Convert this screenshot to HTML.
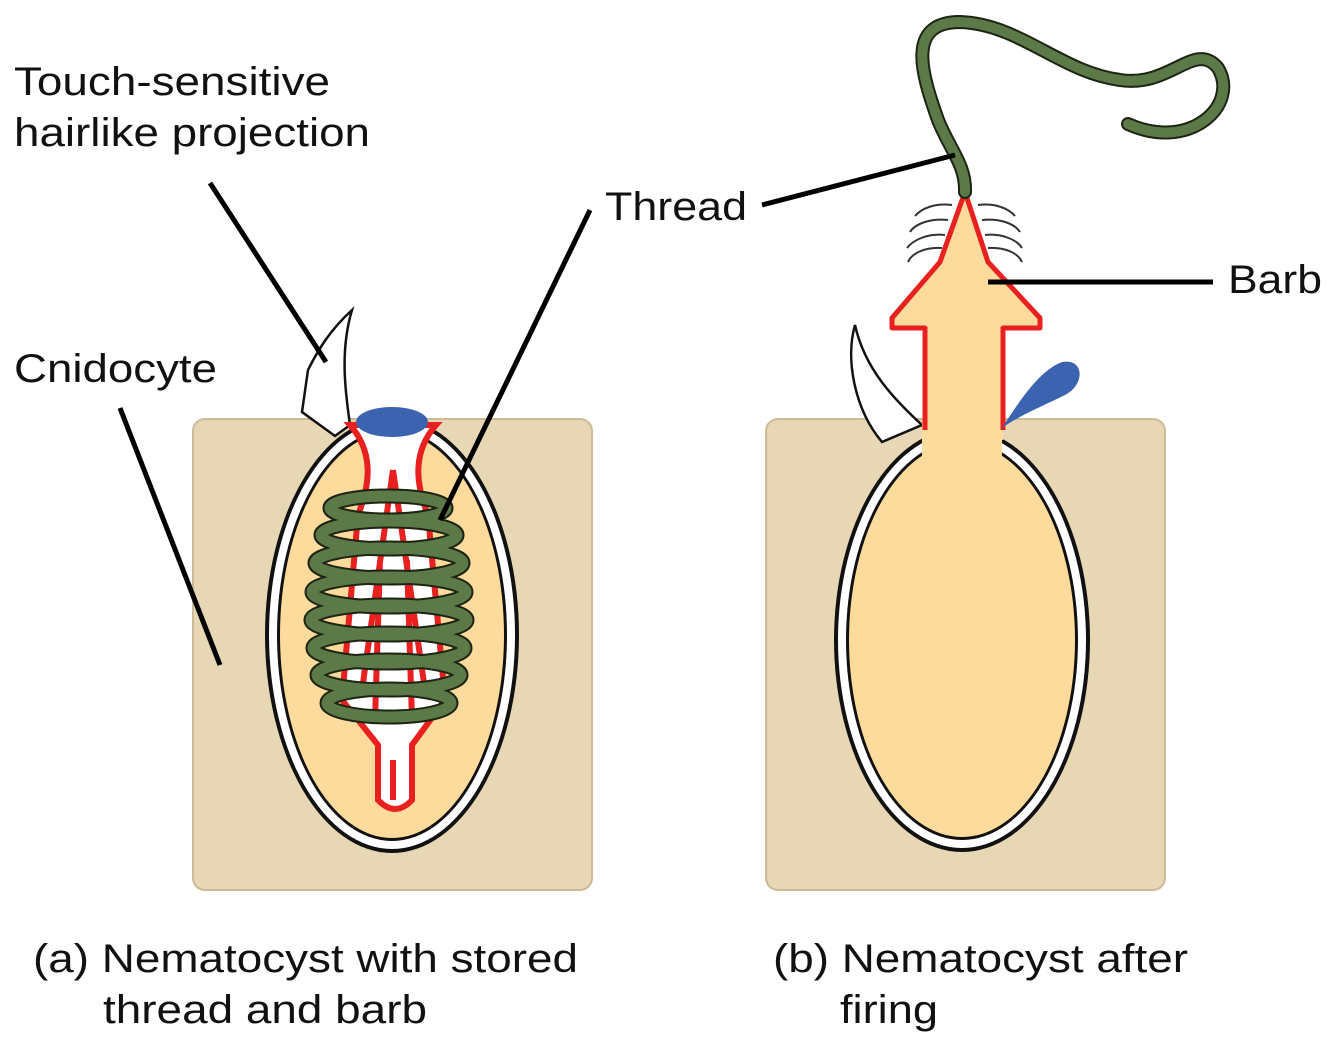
<!DOCTYPE html>
<html><head><style>html,body{margin:0;padding:0;background:#fff}svg{display:block}</style></head><body>
<svg width="1334" height="1042" viewBox="0 0 1334 1042" xmlns="http://www.w3.org/2000/svg" font-family="Liberation Sans, sans-serif">
<rect x="193" y="419" width="399" height="471" rx="12" fill="#e8d7b5" stroke="#cdbb98" stroke-width="2"/>
<rect x="766" y="419" width="399" height="471" rx="12" fill="#e8d7b5" stroke="#cdbb98" stroke-width="2"/>
<!-- left flap -->
<path d="M352,310 C330,330 318,350 308,370 L302,412 L335,436 L350,425 C345,390 340,350 352,310 Z" fill="#fff" stroke="#111" stroke-width="2.5"/>
<!-- left capsule -->
<ellipse cx="392" cy="635" rx="127" ry="218" fill="#111"/>
<ellipse cx="392" cy="635" rx="123" ry="214" fill="#fff"/>
<ellipse cx="392" cy="635" rx="115" ry="206" fill="#111"/>
<ellipse cx="392" cy="635" rx="112" ry="203" fill="#fddb9c"/>
<!-- tube -->
<path d="M350,425 C372,450 372,480 358,515 L342,700 L378,745 L378,800 Q395,818 412,800 L412,745 L445,700 L428,515 C414,480 414,450 436,425 Z" fill="#fff" stroke="#e8201f" stroke-width="6"/>
<path d="M393,470 L362,690 M393,470 L425,690 M380,560 L375,720 M407,560 L412,720 M393,760 L393,800" stroke="#e8201f" stroke-width="6" fill="none"/>
<ellipse cx="392" cy="422" rx="36" ry="15" fill="#3b63b0"/>
<!-- coils -->
<g fill="none">
<g stroke="#1d2414" stroke-width="15">
<ellipse cx="388" cy="508" rx="58" ry="12"/><ellipse cx="389" cy="535" rx="68" ry="14"/><ellipse cx="389" cy="563" rx="74" ry="15"/><ellipse cx="389" cy="592" rx="77" ry="15"/><ellipse cx="389" cy="620" rx="78" ry="15"/><ellipse cx="389" cy="648" rx="76" ry="15"/><ellipse cx="389" cy="675" rx="72" ry="15"/><ellipse cx="389" cy="703" rx="62" ry="14"/>
</g>
<g stroke="#5c7a47" stroke-width="11">
<ellipse cx="388" cy="508" rx="58" ry="12"/><ellipse cx="389" cy="535" rx="68" ry="14"/><ellipse cx="389" cy="563" rx="74" ry="15"/><ellipse cx="389" cy="592" rx="77" ry="15"/><ellipse cx="389" cy="620" rx="78" ry="15"/><ellipse cx="389" cy="648" rx="76" ry="15"/><ellipse cx="389" cy="675" rx="72" ry="15"/><ellipse cx="389" cy="703" rx="62" ry="14"/>
</g>
</g>
<!-- right flap -->
<path d="M855,325 C845,360 855,410 882,442 L922,425 C895,400 865,370 855,325 Z" fill="#fff" stroke="#111" stroke-width="2.5"/>
<!-- right capsule -->
<ellipse cx="962" cy="640" rx="128" ry="212" fill="#111"/>
<ellipse cx="962" cy="640" rx="124" ry="208" fill="#fff"/>
<ellipse cx="962" cy="640" rx="116" ry="200" fill="#111"/>
<ellipse cx="962" cy="640" rx="113" ry="197" fill="#fddb9c"/>
<rect x="922" y="420" width="80" height="40" fill="#fddb9c"/>
<!-- barb -->
<path d="M925,440 L925,328 L892,328 L892,318 L940,262 L965,192 L988,262 L1040,318 L1040,328 L1003,328 L1003,440 Z" fill="#fddb9c"/>
<path d="M925,430 L925,328 L892,328 L892,318 L940,262 L965,192 L988,262 L1040,318 L1040,328 L1003,328 L1003,430" fill="none" stroke="#e8201f" stroke-width="5" stroke-linejoin="round"/>
<path d="M1002,428 C1020,400 1040,370 1062,362 C1085,358 1085,385 1065,395 C1045,405 1020,415 1002,428 Z" fill="#3b63b0"/>
<g stroke="#333" stroke-width="2" fill="none">
<path d="M952,205 C935,203 922,208 915,216"/><path d="M948,220 C930,218 915,224 910,232"/><path d="M945,235 C928,233 913,240 907,248"/><path d="M942,248 C925,247 912,253 908,262"/>
<path d="M978,205 C995,203 1008,208 1015,216"/><path d="M982,220 C1000,218 1015,224 1020,232"/><path d="M985,235 C1002,233 1017,240 1022,248"/><path d="M988,248 C1005,247 1018,253 1022,262"/>
</g>
<!-- thread -->
<path d="M965,192 C966,165 950,150 938,120 C922,75 905,22 960,22 C1020,24 1060,72 1120,80 C1170,88 1195,40 1218,68 C1240,105 1190,152 1128,124" fill="none" stroke="#1d2414" stroke-width="14" stroke-linecap="round"/>
<path d="M965,192 C966,165 950,150 938,120 C922,75 905,22 960,22 C1020,24 1060,72 1120,80 C1170,88 1195,40 1218,68 C1240,105 1190,152 1128,124" fill="none" stroke="#5c7a47" stroke-width="10" stroke-linecap="round"/>
<!-- leader lines -->
<g stroke="#000" stroke-width="5">
<line x1="210" y1="183" x2="326" y2="362"/><line x1="120" y1="408" x2="220" y2="665"/><line x1="590" y1="210" x2="440" y2="520"/><line x1="762" y1="205" x2="955" y2="155"/><line x1="988" y1="282" x2="1213" y2="282"/>
</g>
<g font-size="40" fill="#111" lengthAdjust="spacingAndGlyphs">
<text x="14" y="95" textLength="316" lengthAdjust="spacingAndGlyphs">Touch-sensitive</text>
<text x="14" y="146" textLength="356" lengthAdjust="spacingAndGlyphs">hairlike projection</text>
<text x="14" y="382" textLength="203" lengthAdjust="spacingAndGlyphs">Cnidocyte</text>
<text x="605" y="220" textLength="142" lengthAdjust="spacingAndGlyphs">Thread</text>
<text x="1228" y="293" textLength="94" lengthAdjust="spacingAndGlyphs">Barb</text>
<text x="33" y="972" textLength="545" lengthAdjust="spacingAndGlyphs">(a) Nematocyst with stored</text>
<text x="103" y="1023" textLength="324" lengthAdjust="spacingAndGlyphs">thread and barb</text>
<text x="773" y="972" textLength="415" lengthAdjust="spacingAndGlyphs">(b) Nematocyst after</text>
<text x="840" y="1023" textLength="98" lengthAdjust="spacingAndGlyphs">firing</text>
</g>
</svg>
</body></html>
